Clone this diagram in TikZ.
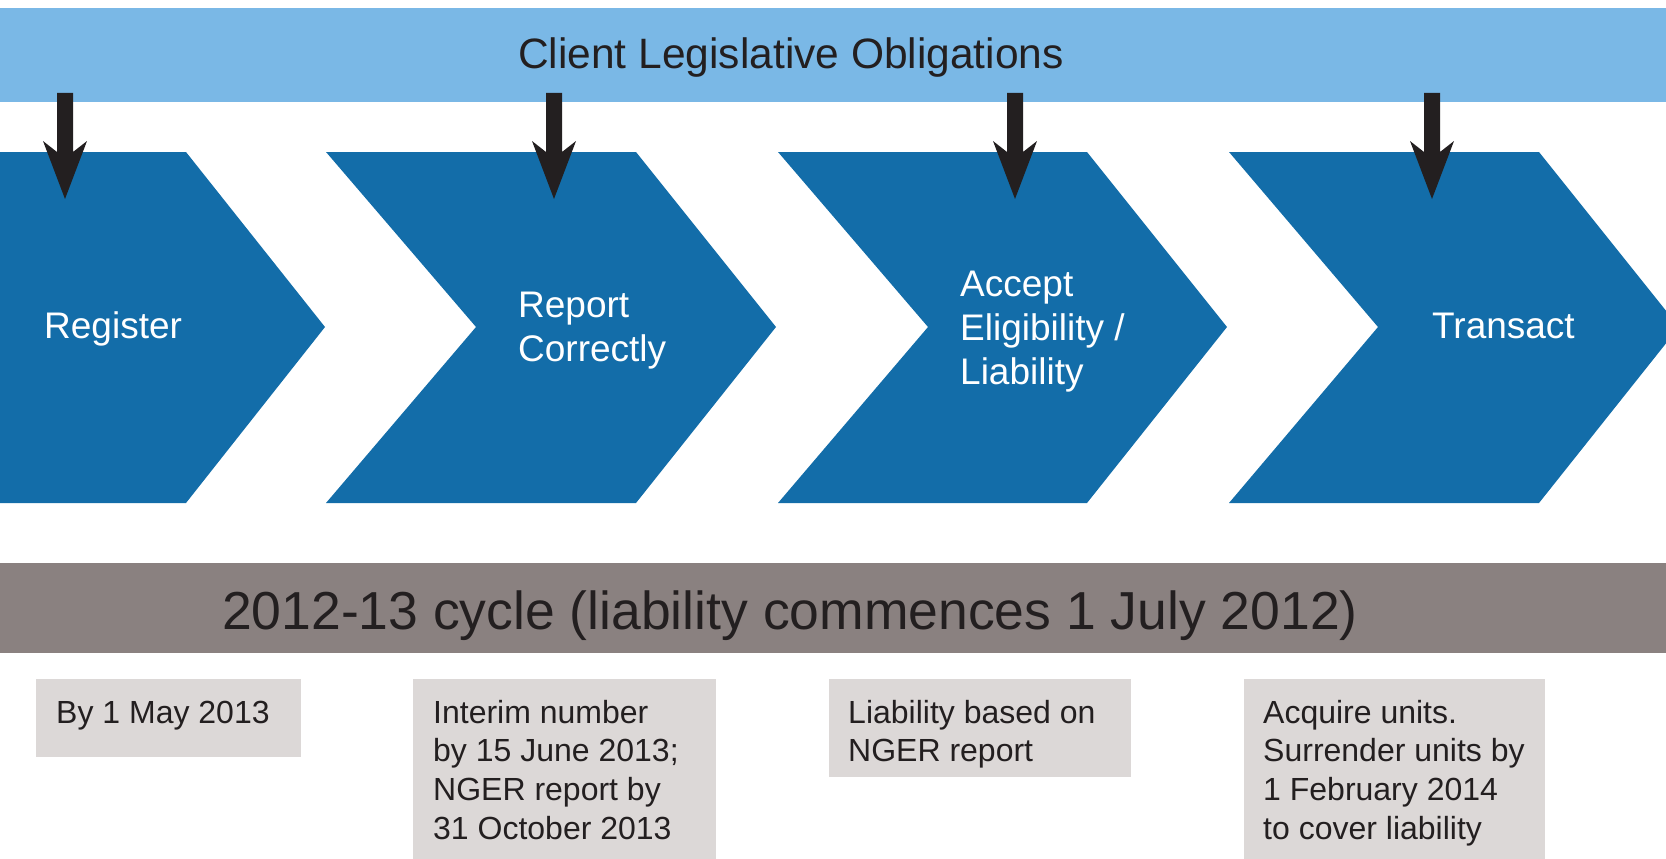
\documentclass[tikz,border=0pt]{standalone}
\usepackage{fontspec}
\setmainfont{Liberation Sans}
\definecolor{topblue}{HTML}{7AB8E6}
\definecolor{chevblue}{HTML}{136DA9}
\definecolor{bargrey}{HTML}{8A8180}
\definecolor{boxgrey}{HTML}{DCD8D7}
\definecolor{inkdark}{HTML}{231F20}
\tikzset{
  topbar/.style={fill=topblue},
  chevron/.style={fill=chevblue},
  greybar/.style={fill=bargrey},
  notebox/.style={fill=boxgrey},
  titletext/.style={anchor=base, inner sep=0, text=inkdark, font=\fontsize{42.5}{48}\selectfont},
  stagetext/.style={anchor=base west, inner sep=0, text=white, font=\fontsize{37}{44}\selectfont},
  cycletext/.style={anchor=base, inner sep=0, text=inkdark, font=\fontsize{53.5}{60}\selectfont},
  notetext/.style={anchor=base west, inner sep=0, text=inkdark, font=\fontsize{32}{38.7}\selectfont},
  downarrow/.pic={\fill[inkdark] (-8,93) -- (8,93) -- (8,152) -- (22,141) -- (0,199) -- (-22,141) -- (-8,152) -- cycle;}
}
\begin{document}
\begin{tikzpicture}[x=1pt,y=-1pt]
\useasboundingbox (0,0) rectangle (1666,859);
\clip (0,0) rectangle (1666,859);
% top bar
\fill[topbar] (0,8) rectangle (1666,102);
\node[titletext] (title) at (791,69) {Client Legislative Obligations};
% chevrons
\fill[chevron] (0,152) -- (186,152) -- (325,327) -- (186,503) -- (0,503) -- cycle;
\fill[chevron] (326,152) -- (636,152) -- (776,327) -- (636,503) -- (326,503) -- (476,327) -- cycle;
\fill[chevron] (778,152) -- (1087,152) -- (1227,327) -- (1087,503) -- (778,503) -- (928,327) -- cycle;
\fill[chevron] (1229,152) -- (1539,152) -- (1679,327) -- (1539,503) -- (1229,503) -- (1378,327) -- cycle;
% arrows
\pic at (65,0) {downarrow};
\pic at (554,0) {downarrow};
\pic at (1015,0) {downarrow};
\pic at (1432,0) {downarrow};
% stage labels
\node[stagetext] (register) at (44,338) {Register};
\node[stagetext] (report) at (518,317) {\begin{tabular}[t]{@{}l@{}}Report\\Correctly\end{tabular}};
\node[stagetext] (accept) at (960,296) {\begin{tabular}[t]{@{}l@{}}Accept\\Eligibility /\\Liability\end{tabular}};
\node[stagetext] (transact) at (1432,338) {Transact};
% cycle bar
\fill[greybar] (0,563) rectangle (1666,653);
\node[cycletext] (cycle) at (790,629) {2012-13 cycle (liability commences 1 July 2012)};
% note boxes
\fill[notebox] (36,679) rectangle (301,757);
\fill[notebox] (413,679) rectangle (716,870);
\fill[notebox] (829,679) rectangle (1131,777);
\fill[notebox] (1244,679) rectangle (1545,870);
\node[notetext] (n1) at (56,723) {By 1 May 2013};
\node[notetext] (n2) at (433,723) {\begin{tabular}[t]{@{}l@{}}Interim number\\by 15 June 2013;\\NGER report by\\31 October 2013\end{tabular}};
\node[notetext] (n3) at (848,723) {\begin{tabular}[t]{@{}l@{}}Liability based on\\NGER report\end{tabular}};
\node[notetext] (n4) at (1263,723) {\begin{tabular}[t]{@{}l@{}}Acquire units.\\Surrender units by\\1 February 2014\\to cover liability\end{tabular}};
\end{tikzpicture}
\end{document}
